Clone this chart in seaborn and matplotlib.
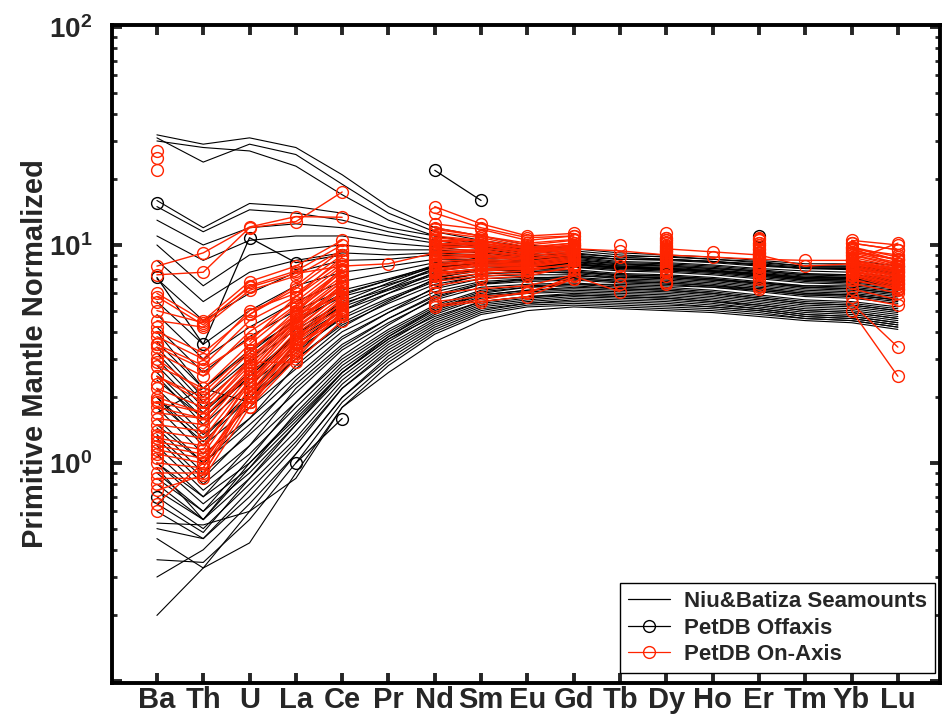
import numpy as np
import pandas as pd
import matplotlib
matplotlib.use("Agg")
import matplotlib.pyplot as plt
import seaborn as sns
from matplotlib.lines import Line2D
from matplotlib.ticker import FixedLocator, FixedFormatter, NullFormatter

elements = ["Ba", "Th", "U", "La", "Ce", "Pr", "Nd", "Sm", "Eu", "Gd",
            "Tb", "Dy", "Ho", "Er", "Tm", "Yb", "Lu"]
n = np.nan

# Niu & Batiza seamounts (primitive-mantle normalized)
seamounts = [
    [32, 29, 31, 28, 21, 15, 12, 11, 10, 9.6, 9.2, 9.0, 8.8, 8.5, 8.2, 8.2, 7.8],
    [31, 24, 29, 26, 19, 14, 11.5, 10.5, 9.8, 9.4, 9.0, 8.8, 8.6, 8.3, 8.0, 8.0, 7.6],
    [30, 28, 27, 23, 17, 13, 11, 10.2, 9.5, 9.2, 8.8, 8.6, 8.4, 8.1, 7.8, 7.8, 7.4],
    [16, 12, 15.5, 15, 14, 12, 11, 10, 9.4, 9.0, 8.6, 8.5, 8.3, 8.0, 7.8, 7.7, 7.3],
    [15, 11.5, 14.5, 14, 13, 11.5, 10.5, 9.8, 9.2, 8.8, 8.4, 8.3, 8.1, 7.8, 7.6, 7.5, 7.1],
    [13, 10, 12, 12.5, 12, 11, 10.2, 9.6, 9.0, 8.7, 8.3, 8.2, 8.0, 7.7, 7.4, 7.3, 7.0],
    [11, 8.5, 10.5, 11, 11, 10.2, 9.8, 9.3, 8.9, 8.6, 8.2, 8.1, 7.9, 7.6, 7.3, 7.2, 6.9],
    [10, 6.5, 9, 9.5, 10, 9.5, 9.5, 9.2, 8.8, 8.5, 8.2, 8.0, 7.8, 7.5, 7.2, 7.1, 6.8],
    [8.5, 5.5, 7.5, 8.5, 9.2, 9.0, 9.2, 9.0, 8.6, 8.4, 8.0, 7.9, 7.7, 7.4, 7.1, 7.0, 6.7],
    [7, 4.5, 6, 7.5, 8.5, 8.6, 9.0, 8.8, 8.5, 8.3, 8.0, 7.8, 7.6, 7.3, 7.0, 6.9, 6.6],
    [5.5, 3.5, 5, 6.5, 7.5, 8.0, 8.6, 8.6, 8.4, 8.2, 7.8, 7.7, 7.5, 7.2, 6.9, 6.8, 6.5],
    [4.8, 3.0, 4.2, 5.5, 6.8, 7.5, 8.3, 8.5, 8.3, 8.2, 7.9, 7.8, 7.6, 7.3, 7.0, 6.9, 6.6],
    [4.2, 2.6, 3.8, 5.0, 6.2, 7.0, 8.0, 8.2, 8.1, 8.0, 7.7, 7.6, 7.4, 7.1, 6.8, 6.7, 6.4],
    [3.6, 2.2, 3.3, 4.5, 5.8, 6.6, 7.6, 8.0, 8.0, 7.9, 7.6, 7.5, 7.3, 7.0, 6.7, 6.6, 6.3],
    [3.2, 1.9, 2.9, 4.1, 5.4, 6.3, 7.4, 7.8, 7.8, 7.7, 7.4, 7.3, 7.1, 6.8, 6.5, 6.4, 6.1],
    [2.8, 1.7, 2.6, 3.7, 5.0, 6.0, 7.1, 7.6, 7.7, 7.6, 7.3, 7.2, 7.0, 6.7, 6.4, 6.3, 6.0],
    [2.5, 1.5, 2.3, 3.3, 4.6, 5.7, 6.9, 7.4, 7.5, 7.5, 7.2, 7.1, 6.9, 6.6, 6.3, 6.2, 5.9],
    [2.2, 1.35, 2.0, 3.0, 4.3, 5.4, 6.6, 7.2, 7.3, 7.3, 7.0, 6.9, 6.7, 6.4, 6.1, 6.0, 5.7],
    [2.0, 1.2, 1.8, 2.7, 4.0, 5.1, 6.3, 7.0, 7.1, 7.1, 6.9, 6.8, 6.6, 6.3, 6.0, 5.9, 5.6],
    [1.8, 1.1, 1.6, 2.5, 3.8, 4.9, 6.1, 6.8, 7.0, 7.0, 6.8, 6.7, 6.5, 6.2, 5.9, 5.8, 5.5],
    [1.6, 1.0, 1.5, 2.3, 3.5, 4.6, 5.8, 6.6, 6.8, 6.9, 6.7, 6.6, 6.4, 6.1, 5.8, 5.7, 5.4],
    [1.45, 0.9, 1.35, 2.1, 3.3, 4.4, 5.6, 6.4, 6.6, 6.7, 6.5, 6.4, 6.2, 5.9, 5.6, 5.5, 5.2],
    [1.3, 0.8, 1.2, 1.9, 3.0, 4.1, 5.3, 6.2, 6.5, 6.6, 6.4, 6.3, 6.1, 5.8, 5.5, 5.4, 5.1],
    [1.2, 0.75, 1.1, 1.8, 2.9, 4.0, 5.2, 6.1, 6.4, 6.5, 6.3, 6.2, 6.0, 5.7, 5.4, 5.3, 5.0],
    [1.1, 0.7, 1.0, 1.65, 2.7, 3.8, 5.0, 5.9, 6.2, 6.3, 6.2, 6.1, 5.9, 5.6, 5.3, 5.2, 4.9],
    [1.0, 0.65, 0.95, 1.55, 2.6, 3.7, 4.9, 5.8, 6.1, 6.2, 6.1, 6.0, 5.8, 5.5, 5.2, 5.1, 4.8],
    [0.9, 0.6, 0.9, 1.5, 2.5, 3.6, 4.8, 5.7, 6.0, 6.1, 6.0, 5.9, 5.7, 5.4, 5.1, 5.0, 4.7],
    [0.8, 0.55, 0.85, 1.4, 2.4, 3.5, 4.6, 5.5, 5.8, 6.0, 5.9, 5.8, 5.6, 5.3, 5.0, 4.9, 4.6],
    [0.7, 0.5, 0.8, 1.3, 2.3, 3.4, 4.5, 5.4, 5.7, 5.9, 5.8, 5.7, 5.5, 5.2, 4.9, 4.8, 4.5],
    [0.6, 0.45, 0.75, 1.25, 2.2, 3.3, 4.4, 5.3, 5.6, 5.8, 5.7, 5.6, 5.4, 5.1, 4.8, 4.7, 4.4],
    [0.53, 0.52, 0.6, 1.1, 2.0, 3.1, 4.2, 5.1, 5.4, 5.6, 5.5, 5.4, 5.2, 5.0, 4.7, 4.6, 4.3],
    [0.45, 0.33, 0.43, 0.9, 1.8, 2.8, 3.9, 4.8, 5.2, 5.3, 5.2, 5.1, 5.0, 4.8, 4.6, 4.5, 4.2],
    [0.36, 0.35, 0.55, 1.0, 1.9, 2.9, 4.0, 4.9, 5.3, 5.4, 5.3, 5.2, 5.1, 4.9, 4.6, 4.5, 4.2],
    [0.2, 0.33, 0.6, 0.85, 1.8, 2.6, 3.6, 4.5, 5.0, 5.2, 5.1, 5.0, 4.9, 4.7, 4.5, 4.4, 4.1],
    [0.3, 0.4, 0.65, 1.1, 2.0, 3.0, 4.1, 5.0, 5.4, 5.5, 5.4, 5.3, 5.2, 5.0, 4.7, 4.6, 4.3],
    [0.5, 0.45, 0.7, 1.2, 2.2, 3.2, 4.3, 5.2, 5.5, 5.7, 5.6, 5.5, 5.3, 5.1, 4.8, 4.7, 4.4],
    [2.0, 1.3, 2.1, 3.5, 5.0, 6.3, 7.8, 8.4, 8.4, 8.4, 8.1, 8.0, 7.8, 7.6, 7.3, 7.3, 7.0],
    [1.5, 1.0, 1.6, 2.8, 4.2, 5.5, 7.0, 7.8, 8.0, 8.1, 7.9, 7.8, 7.6, 7.4, 7.1, 7.1, 6.8],
    [3.0, 1.8, 2.4, 3.9, 5.2, 6.2, 7.3, 7.7, 7.6, 7.4, 7.1, 7.0, 6.8, 6.5, 6.2, 6.1, 5.8],
    [1.0, 0.7, 1.2, 2.2, 3.4, 4.6, 5.9, 6.7, 6.9, 7.0, 6.8, 6.7, 6.5, 6.3, 6.0, 5.9, 5.6],
    [0.75, 0.55, 0.95, 1.7, 2.8, 3.9, 5.1, 5.9, 6.2, 6.4, 6.3, 6.2, 6.0, 5.7, 5.4, 5.3, 5.0],
    [2.4, 1.6, 2.5, 3.8, 5.3, 6.5, 7.8, 8.3, 8.3, 8.2, 7.9, 7.8, 7.6, 7.3, 7.0, 7.0, 6.7],
    [1.7, 2.2, 1.9, 3.0, 4.4, 5.6, 6.8, 7.4, 7.5, 7.5, 7.3, 7.2, 7.0, 6.7, 6.4, 6.3, 6.0],
    [0.95, 0.55, 1.0, 1.6, 2.6, 3.7, 4.7, 5.5, 5.8, 5.9, 5.8, 5.7, 5.5, 5.3, 5.0, 4.9, 4.6],
    [4.0, 2.2, 3.2, 4.6, 6.0, 6.9, 7.9, 8.3, 8.2, 8.1, 7.8, 7.7, 7.5, 7.2, 6.9, 6.8, 6.5],
    [3.4, 2.0, 3.0, 4.4, 5.9, 6.9, 8.1, 8.7, 8.8, 8.9, 8.6, 8.6, 8.4, 8.1, 7.8, 7.8, 7.5],
    [2.6, 1.6, 2.5, 3.9, 5.5, 6.7, 8.0, 8.8, 9.0, 9.1, 8.8, 8.9, 8.6, 8.4, 8.0, 8.0, 7.7],
    [1.9, 1.25, 2.0, 3.2, 4.7, 6.0, 7.5, 8.3, 8.6, 8.8, 8.6, 8.6, 8.4, 8.2, 7.9, 7.9, 7.6],
    [1.35, 0.85, 1.4, 2.4, 3.7, 4.9, 6.4, 7.3, 7.7, 7.9, 7.8, 7.8, 7.6, 7.4, 7.1, 7.1, 6.9],
    [0.85, 0.6, 1.05, 1.9, 3.1, 4.3, 5.7, 6.6, 7.0, 7.2, 7.1, 7.1, 6.9, 6.7, 6.5, 6.5, 6.2],
    [0.65, 0.48, 0.85, 1.5, 2.6, 3.8, 5.1, 6.0, 6.4, 6.6, 6.6, 6.5, 6.4, 6.2, 5.9, 5.9, 5.6],
]

# PetDB off-axis samples (missing values break the line)
offaxis = [
    [7.1, 3.5, 10.8, 8.3, 9.0, n, 10, 9.8, 9.5, 9.6, n, 9.4, n, 9.2, n, 8.5, 8.0],
    [n, n, n, 1.0, 1.6, n, n, n, n, n, n, n, n, n, n, n, n],
    [n, n, n, n, n, n, 22, 16, n, n, n, n, n, n, n, n, n],
    [15.5, n, n, n, n, n, n, n, n, n, n, n, n, n, n, n, n],
    [0.7, n, n, n, n, n, n, n, n, n, n, n, n, 11, n, n, n],
]

# PetDB on-axis samples (missing values break the line)
onaxis = [
    [8.0, 9.2, 12.1, 13.5, 13.4, n, 15, 12.5, 11, 11.3, n, 11.3, n, 10.8, n, 10.5, 10.0],
    [7.3, 7.5, 12.0, 12.8, 17.5, n, 14, 12, 10.8, 11, n, 10.8, n, 10.5, n, 10.2, 9.5],
    [27, n, n, n, n, n, n, n, n, n, n, n, n, n, n, n, n],
    [25, n, n, n, n, n, n, n, n, n, n, n, n, n, n, n, n],
    [22, n, n, n, n, n, n, n, n, n, n, n, n, n, n, n, n],
    [5.0, 4.4, 6.4, 7.4, 8.0, 8.2, 9.2, 9.5, 9.5, 9.6, 9.4, 9.0, 8.8, 8.6, 8.5, 8.5, 10.2],
    [3.5, 2.8, 4.5, 5.8, 8.2, n, 10.5, 10.0, 9.3, 9.6, n, 9.6, 9.3, 9.0, 8.0, 8.2, 7.8],
    [6.0, 4.5, 6.8, 8.0, 10.5, n, 12, 11, 10, 10.5, n, 10.5, n, 10.2, n, 9.8, 8.8],
    [5.8, 4.3, 6.5, 7.6, 10.0, n, 11.5, 10.8, 9.8, 10.2, n, 10.0, n, 9.8, n, 9.5, 8.5],
    [4.5, 4.2, 6.2, 7.2, 9.5, n, 11, 10.5, 9.6, 10, n, 9.7, n, 9.5, n, 9.2, 8.3],
    [3.8, 3.0, 5.0, 6.0, 8.5, n, 10.5, 10.2, 9.4, 9.8, n, 9.4, n, 9.2, n, 9.0, 8.0],
    [3.2, 2.5, 4.0, 5.5, 8.0, n, 10, 10, 9.2, 9.6, n, 9.2, n, 8.9, n, 8.6, 7.8],
    [2.8, 2.2, 3.5, 5.2, 7.5, n, 9.8, 9.8, 9.0, n, 10.0, n, n, 8.8, n, 8.5, 7.6],
    [2.5, 2.0, 3.2, 5.0, 7.2, n, 9.5, 9.5, 8.9, 9.4, n, 8.9, n, 8.7, n, 8.4, 7.5],
    [2.2, 1.8, 3.0, 4.8, 7.0, n, 9.2, 9.3, 8.8, n, 8.8, n, n, 8.6, n, 8.3, 7.4],
    [2.0, 1.7, 2.8, 4.6, 6.8, n, 9.0, 9.1, 8.7, 9.2, n, 8.7, n, 8.5, n, 8.2, 7.3],
    [1.8, 1.6, 2.7, 4.5, 6.5, n, 8.8, 9.0, 8.6, 9.1, n, 8.6, n, 8.4, n, 8.1, 7.2],
    [1.6, 1.5, 2.6, 4.3, 6.3, n, 8.6, 8.8, 8.5, n, 8.0, n, n, 8.3, n, 8.0, 7.1],
    [1.5, 1.4, 2.5, 4.2, 6.0, n, 8.4, 8.6, 8.4, 8.9, n, 8.4, n, 8.2, n, 7.9, 7.0],
    [1.4, 1.3, 2.4, 4.0, 5.8, n, 8.2, 8.5, 8.3, 8.8, n, 8.3, n, 8.1, n, 7.8, 6.9],
    [1.3, 1.2, 2.3, 3.9, 5.6, n, 8.0, 8.3, 8.2, n, 7.2, n, n, 8.0, n, 7.7, 6.8],
    [1.2, 1.1, 2.2, 3.8, 5.4, n, 7.8, 8.2, 8.1, 8.6, n, 8.1, n, 7.9, n, 7.6, 6.7],
    [1.1, 1.0, 2.1, 3.7, 5.2, n, 7.6, 8.0, 8.0, 8.5, n, 8.0, n, 7.8, n, 7.5, 6.6],
    [1.0, 0.95, 2.0, 3.6, 5.0, n, 7.4, 7.8, 7.9, 8.4, n, 7.9, n, 7.7, n, 7.4, 6.5],
    [0.9, 0.9, 1.9, 3.5, 4.8, n, 7.2, 7.6, 7.8, n, 6.6, n, n, 7.6, n, 7.3, 6.4],
    [0.6, n, 1.8, 3.4, 4.7, n, 7.0, 7.4, 7.6, 8.2, n, 7.7, n, 7.5, n, 7.2, 6.3],
    [0.65, 1.0, 2.0, 3.5, 4.8, n, 6.5, 7.0, 7.2, 8.0, n, 7.5, n, 7.4, n, 7.0, 6.2],
    [2.5, 1.9, 2.9, 2.9, 4.5, n, 5.2, 5.5, 5.8, 7.0, n, 6.8, n, 6.3, n, 5.0, 2.5],
    [3.0, 2.1, 3.3, 4.8, 5.8, n, 5.5, 5.8, 6.0, 7.2, 6.1, n, n, 6.5, n, 5.4, 3.4],
    [1.7, 1.6, 2.6, 4.4, 6.4, n, 9.6, 9.9, 9.4, 10.0, n, 10.2, n, 10.0, n, 9.7, 8.0],
    [1.9, 1.7, 2.9, 4.7, 6.8, n, 10.5, 10.5, 9.7, 10.2, n, 10.5, n, 10.2, n, 9.8, 8.5],
    [4.0, 3.2, 4.8, 6.3, 9.0, n, 12.5, 11.8, 10.5, 11, n, 10.8, n, 10.6, n, 10.2, 9.5],
    [1.15, 1.05, 1.9, 3.2, 5.3, n, 6.0, 6.3, 6.5, 7.3, n, 6.8, n, 6.6, n, 6.3, 5.6],
    [0.85, 0.85, 1.8, 3.0, 5.0, n, 5.3, 5.6, 6.1, 7.0, n, 6.6, n, 6.4, n, 5.8, 5.3],
    [5.5, n, 4.8, 6.5, 9.5, n, 11.8, 11, 10.2, 10.6, n, 10.3, n, 10, n, 9.6, 9.0],
    [4.2, n, 3.6, 5.8, 8.8, n, 10.8, 10.4, 9.6, 10.0, n, 9.8, n, 9.6, n, 9.3, 8.6],
    [3.5, n, n, 5.0, 7.8, n, 10.2, 10.0, 9.3, 9.7, n, 9.5, n, 9.3, n, 9.0, 8.2],
    [2.9, n, n, 4.9, 7.6, n, 9.9, 9.7, 9.1, 9.5, n, 9.3, n, 9.0, n, 8.8, 7.9],
    [2.3, n, 3.1, 4.4, 6.6, n, 9.3, 9.4, 8.9, 9.3, n, 9.1, n, 8.8, n, 8.5, 7.7],
    [1.95, n, n, 4.1, 6.1, n, 8.7, 8.9, 8.6, 9.0, n, 8.8, n, 8.6, n, 8.3, 7.5],
    [1.35, n, 2.3, 3.6, 5.5, n, 8.1, 8.4, 8.2, 8.7, n, 8.4, n, 8.2, n, 7.9, 7.2],
    [1.05, n, n, 3.3, 5.1, n, 7.7, 8.1, 8.0, 8.4, n, 8.0, n, 7.9, n, 7.6, 6.9],
    [0.8, n, 1.9, 3.1, 4.9, n, 7.3, 7.8, 7.8, 8.1, n, 7.8, n, 7.7, n, 7.3, 6.6],
    [0.75, 0.88, 2.1, 3.3, 5.1, n, 6.8, 7.2, 7.4, 7.8, n, 7.2, n, 7.0, n, 6.7, 6.0],
    [1.25, 1.15, 2.4, 3.7, 5.7, n, 7.5, 7.7, 7.7, 8.1, n, 7.6, n, 7.3, n, 6.9, 6.3],
    [3.4, 2.7, 3.7, 5.3, 7.7, n, 10.0, 10.2, 9.6, 9.9, n, 9.9, n, 9.6, n, 9.3, 8.6],
]

RED = "#ff2400"


def to_long(rows, group):
    """One unit per unbroken run of values, so a missing value breaks the line."""
    recs = []
    for i, row in enumerate(rows):
        seg = 0
        for j, v in enumerate(row):
            if np.isnan(v):
                seg += 1
                continue
            recs.append({"sample": f"{group}{i}_{seg}", "pos": j, "value": v})
    return pd.DataFrame(recs)


df_sm = to_long(seamounts, "sm")
df_off = to_long(offaxis, "off")
df_on = to_long(onaxis, "on")

sns.set_style("white")
plt.rcParams["font.family"] = ["Liberation Sans", "DejaVu Sans"]
plt.rcParams["mathtext.fontset"] = "custom"
plt.rcParams["mathtext.rm"] = "Liberation Sans"
plt.rcParams["mathtext.bf"] = "Liberation Sans:bold"

fig = plt.figure(figsize=(9.46, 7.22), dpi=100)
ax = fig.add_axes([112 / 946, 1 - 683 / 722, (940 - 112) / 946, (683 - 25) / 722])
ax.set_yscale("log")

sns.lineplot(data=df_sm, x="pos", y="value", units="sample", estimator=None,
             color="black", lw=0.8, legend=False, ax=ax)
sns.lineplot(data=df_off, x="pos", y="value", units="sample", estimator=None,
             color="black", lw=0.9, marker="o", markersize=8.5,
             markerfacecolor="none", markeredgecolor="black", mew=1.0,
             legend=False, ax=ax)
sns.lineplot(data=df_on, x="pos", y="value", units="sample", estimator=None,
             color=RED, lw=1.0, marker="o", markersize=8.5,
             markerfacecolor="none", markeredgecolor=RED, mew=1.0,
             legend=False, ax=ax)

ax.set_xlim(-0.97, 16.91)
ax.set_ylim(10 ** -1.009, 10 ** 2.009)

ax.xaxis.set_major_locator(FixedLocator(range(len(elements))))
ax.xaxis.set_major_formatter(FixedFormatter(elements))
ax.yaxis.set_major_locator(FixedLocator([0.1, 1, 10, 100]))
ax.yaxis.set_major_formatter(FixedFormatter(
    ["", r"$\mathbf{10^{0}}$", r"$\mathbf{10^{1}}$", r"$\mathbf{10^{2}}$"]))
minor = [m * 10.0 ** e for e in (-1, 0, 1) for m in range(2, 10)]
ax.yaxis.set_minor_locator(FixedLocator(minor))
ax.yaxis.set_minor_formatter(NullFormatter())

ax.tick_params(axis="x", which="major", direction="in", length=7, width=2.8,
               top=True, bottom=True, labelsize=21, pad=2)
ax.tick_params(axis="x", which="minor", bottom=False, top=False)
ax.tick_params(axis="y", which="major", direction="in", length=7, width=2.8,
               left=True, right=True, labelsize=20, pad=14)
ax.tick_params(axis="y", which="minor", direction="in", length=3.5, width=2.0,
               left=True, right=True)
for lbl in ax.get_xticklabels():
    lbl.set_fontweight("bold")

for sp in ax.spines.values():
    sp.set_visible(True)
    sp.set_linewidth(2.8)
    sp.set_color("black")

ax.set_xlabel("")
ax.set_ylabel("Primitive Mantle Normalized", fontsize=21, fontweight="bold")
ax.yaxis.set_label_coords(-0.076, 0.5)

handles = [
    Line2D([], [], color="black", lw=0.9),
    Line2D([], [], color="black", lw=0.9, marker="o", markersize=8.5,
           markerfacecolor="none", markeredgecolor="black", mew=1.0),
    Line2D([], [], color=RED, lw=0.9, marker="o", markersize=8.5,
           markerfacecolor="none", markeredgecolor=RED, mew=1.0),
]
labels = ["Niu&Batiza Seamounts", "PetDB Offaxis", "PetDB On-Axis"]
leg = ax.legend(handles, labels, loc="lower right",
                bbox_to_anchor=(0.994, 0.0152), borderaxespad=0,
                prop={"size": 16, "weight": "bold"}, frameon=True,
                fancybox=False, framealpha=1, edgecolor="black",
                handlelength=1.9, handletextpad=0.65, labelspacing=0.25,
                borderpad=0.35)
leg.get_frame().set_linewidth(1.0)

fig.savefig("out.png", dpi=100)
